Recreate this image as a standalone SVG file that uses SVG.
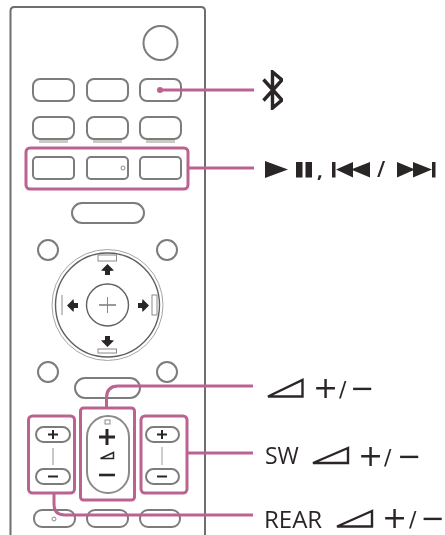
<svg xmlns="http://www.w3.org/2000/svg" width="445" height="535" viewBox="0 0 445 535">
<defs><filter id="s" x="-5%" y="-5%" width="110%" height="110%"><feGaussianBlur stdDeviation="0.6"/></filter></defs>
<style>
svg>g{filter:url(#s)}
.b{fill:#fff;stroke:#7c7c7c;stroke-width:2}
.t{fill:none;stroke:#8a8a8a;stroke-width:1}
.g{fill:#c9c9c6}
.k{fill:#2b2727}
.kl{fill:none;stroke:#2b2727}
.p{fill:none;stroke:#bb6290;stroke-width:3;stroke-linejoin:round}
.lb{font-family:"Open Sans","Noto Sans",sans-serif;fill:#2b2727}
.s{font-family:"DejaVu Sans",sans-serif;fill:#2b2727;font-size:30px}
.m{font-size:29px}
.d{font-size:22px}
</style>
<rect width="445" height="535" fill="#fff"/>
<g id="remote">
<path d="M10.500 535V11Q10.500 7 14.500 7H201Q205 7 205 11V535" fill="none" stroke="#6e6e6e" stroke-width="2"/>
<circle class="b" cx="160.500" cy="43" r="17"/>
</g>
<g id="buttons-row1">
<rect class="b" x="33" y="79" width="41" height="22" rx="7"/>
<rect class="b" x="87" y="79" width="41" height="22" rx="7"/>
<rect class="b" x="140" y="79" width="41" height="22" rx="7"/>
</g>
<g id="buttons-row2">
<rect class="g" x="39" y="138" width="29" height="5"/>
<rect class="g" x="93" y="138" width="29" height="5"/>
<rect class="g" x="146" y="138" width="29" height="5"/>
<rect class="b" x="33" y="117" width="41" height="22" rx="7"/>
<rect class="b" x="87" y="117" width="41" height="22" rx="7"/>
<rect class="b" x="140" y="117" width="41" height="22" rx="7"/>
</g>
<g id="buttons-row3">
<rect class="b" x="33" y="157" width="41" height="22" rx="4"/>
<rect class="b" x="87" y="157" width="41" height="22" rx="4"/>
<rect class="b" x="140" y="157" width="41" height="22" rx="4"/>
<circle class="t" cx="123" cy="168" r="2"/>
</g>
<g id="pill-top"><rect class="b" x="72" y="203" width="72" height="20" rx="10"/></g>
<g id="side-circles">
<circle class="b" cx="48" cy="250" r="10"/>
<circle class="b" cx="167" cy="250" r="10"/>
<circle class="b" cx="48" cy="372" r="10"/>
<circle class="b" cx="167" cy="372" r="10"/>
</g>
<g id="dpad">
<circle cx="107.500" cy="305" r="55.500" fill="#fff" stroke="#a5a5a5" stroke-width="1"/>
<circle cx="107.500" cy="305" r="52" fill="#fff" stroke="#606060" stroke-width="1.400"/>
<rect class="t" x="98" y="255" width="18.500" height="6" fill="#fff"/>
<rect class="t" x="98" y="349" width="18.500" height="4"/>
<rect class="t" x="152" y="295" width="5" height="20"/>
<path class="t" d="M62 295V315"/>
<circle cx="107.500" cy="305" r="21" fill="#fff" stroke="#606060" stroke-width="1.400"/>
<path d="M99 305H116" stroke="#555" stroke-width="1.200"/>
<path d="M107.500 297V313" stroke="#888" stroke-width="1"/>
<path class="k" d="M107.500 264L114 270.500L110 271V275H105V271L101 270.500Z"/>
<path class="k" d="M107.500 347L114 340.500L110 340V336H105V340L101 340.500Z"/>
<path class="k" d="M67 305.500L73.500 299L74 303H78V308H74L73.500 312Z"/>
<path class="k" d="M149 305.500L142.500 299L142 303H138V308H142L142.500 312Z"/>
</g>
<g id="pill-lower"><rect class="b" x="75" y="378" width="65" height="20" rx="10"/></g>
<g id="volume">
<rect x="87" y="416" width="42" height="77" rx="21" fill="#fff" stroke="#8a8a8a" stroke-width="2"/>
<rect class="t" x="105" y="420" width="5" height="4"/>
<path class="kl" stroke-width="3" d="M99 437H115M107 429V445"/>
<path class="kl" stroke-width="1.500" d="M100.500 458.500L113.500 452.500V458.500Z"/>
<path class="kl" stroke-width="2.600" d="M99 475H115"/>
</g>
<g id="sw-left">
<rect class="b" x="36" y="427" width="34" height="15" rx="7.500"/>
<rect class="b" x="36" y="469" width="34" height="15" rx="7.500"/>
<path d="M53 448V465" stroke="#b5b5b5" stroke-width="1.500"/>
<path class="kl" stroke-width="2" d="M48 434.500H58M53 430V439"/>
<path class="kl" stroke-width="2" d="M48 476.500H58"/>
</g>
<g id="sw-right">
<rect class="b" x="146" y="427" width="33" height="15" rx="7.500"/>
<rect class="b" x="146" y="469" width="33" height="15" rx="7.500"/>
<path d="M162 447V465" stroke="#999" stroke-width="1"/>
<path class="kl" stroke-width="2" d="M157 434.500H167M162 430V439"/>
<path class="kl" stroke-width="2" d="M157 476.500H167"/>
</g>
<g id="buttons-bottom">
<rect class="b" x="34" y="510" width="41" height="17" rx="8"/>
<rect class="b" x="87" y="510" width="41" height="17" rx="8"/>
<rect class="b" x="140" y="510" width="40" height="17" rx="8"/>
<circle class="t" cx="54" cy="519" r="2"/>
</g>
<g id="connectors">
<path class="p" d="M254 90H160"/>
<circle cx="160" cy="90" r="3" fill="#bb6290"/>
<rect class="p" x="26" y="148" width="162" height="41" rx="4"/>
<path class="p" d="M188 168H254"/>
<path class="p" d="M253 386H118Q106.500 386 106.500 398V408"/>
<rect class="p" x="80.500" y="408" width="54" height="92" rx="3"/>
<rect class="p" x="28.500" y="416" width="46" height="77" rx="4"/>
<rect class="p" x="141" y="416" width="46" height="77" rx="4"/>
<path class="p" d="M187 453H253"/>
<path class="p" d="M54 493V504Q54 515 65 515H253"/>
</g>
<g id="label-bluetooth">
<path d="M263.500 79.500L282 100L272.500 108V72L282 80L263.500 100.500" fill="none" stroke="#2b2727" stroke-width="3.400"/>
</g>
<g id="label-playback">
<path class="k" d="M265 161L288 169.500L265 178Z"/>
<rect class="k" x="296" y="162" width="6.500" height="15.500"/>
<rect class="k" x="305.500" y="162" width="6.500" height="15.500"/>
<text class="lb" x="317" y="177" font-size="20" font-weight="700">,</text>
<rect class="k" x="332" y="162" width="3.500" height="15.500"/>
<path class="k" d="M336 169.500L353 162V177.500Z M351 169.500L370 162V177.500Z"/>
<text class="lb" x="377" y="177" font-size="21" font-weight="600">/</text>
<path class="k" d="M397 162L415 169.500L397 177.500Z M413 162L432 169.500L413 177.500Z"/>
<rect class="k" x="432" y="162" width="3.500" height="15.500"/>
</g>
<g id="label-volume">
<path class="kl" stroke-width="2.400" d="M268 396.500L302.500 380V396.500Z"/>
<text class="s"><tspan x="313" y="397.500">+</tspan><tspan class="d" x="339" y="397">/</tspan><tspan class="m" x="350" y="398">−</tspan></text>
</g>
<g id="label-sw">
<text class="lb" x="265" y="464" font-size="23">SW</text>
<path class="kl" stroke-width="2.400" d="M313 463L348 448V463Z"/>
<text class="s"><tspan x="358" y="465.500">+</tspan><tspan class="d" x="384" y="465">/</tspan><tspan class="m" x="397" y="466">−</tspan></text>
</g>
<g id="label-rear">
<text class="lb" x="264" y="528" font-size="24">REAR</text>
<path class="kl" stroke-width="2.400" d="M337 526.500L372 511V526.500Z"/>
<text class="s"><tspan x="382" y="527.500">+</tspan><tspan class="d" x="409" y="527">/</tspan><tspan class="m" x="420.500" y="528">−</tspan></text>
</g>
</svg>
